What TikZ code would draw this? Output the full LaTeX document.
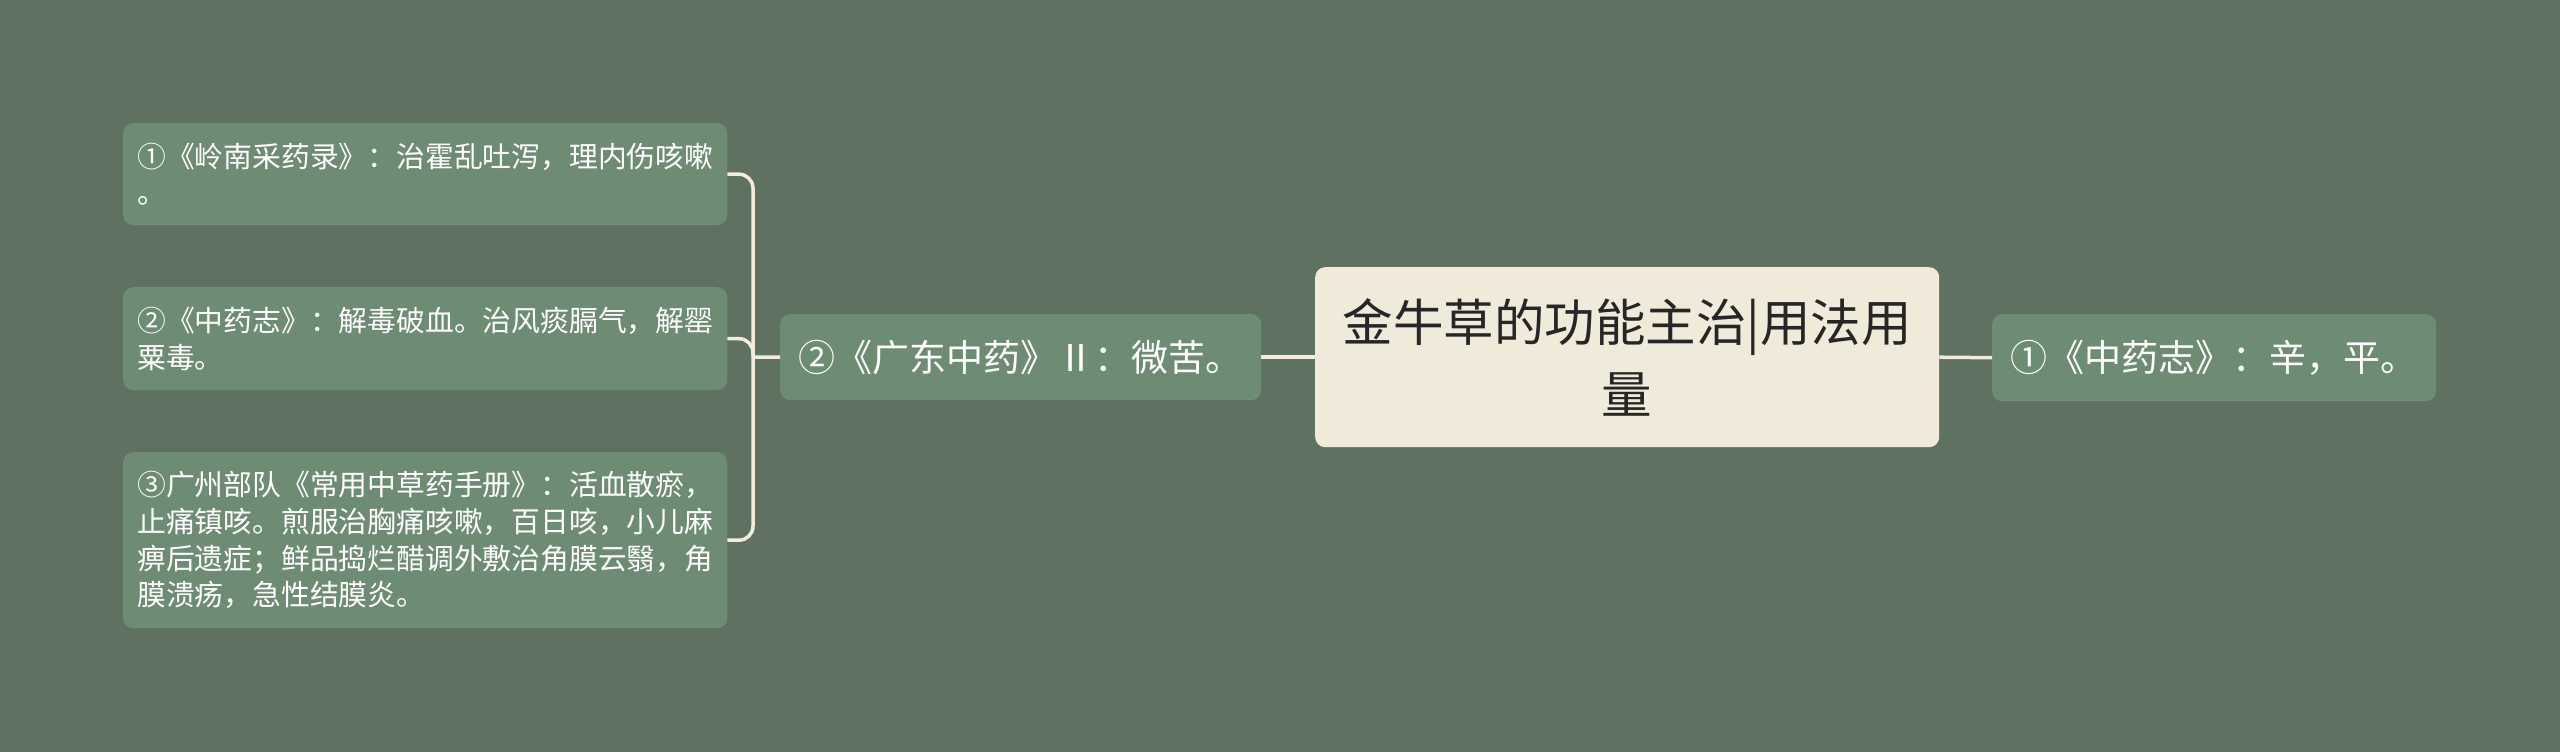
\documentclass[tikz,border=0pt]{standalone}
\usepackage{fontspec}
\setmainfont{Noto Sans CJK SC}
\definecolor{bgcol}{HTML}{5F7262}
\definecolor{leafcol}{HTML}{6E8B74}
\definecolor{rootcol}{HTML}{EFEAD9}
\definecolor{linecol}{HTML}{F1EDDC}

\begin{document}
\begin{tikzpicture}[x=1pt,y=-1pt,
    box/.style={rounded corners=10pt,fill=leafcol,text=white,anchor=north west,align=left,inner ysep=0pt},
    leaf/.style={box,inner xsep=14pt,text width=576pt,font=\fontsize{28.8pt}{36.7pt}\selectfont},
    mid/.style={box,inner xsep=18pt,minimum height=86pt,font=\fontsize{37pt}{44pt}\selectfont},
    root/.style={box,fill=rootcol,text=black!85,align=center,inner xsep=22pt,text width=580pt,minimum height=180pt,font=\fontsize{50.5pt}{72pt}\selectfont},
    link/.style={draw=linecol,line width=3.5pt}]
  \fill[bgcol] (0,0) rectangle (2560,752);

  \node[root]                      (R)  at (1315,267) {金牛草的功能主治|用法用\\量};
  \node[mid,text width=445pt]      (M)  at (780,314)  {②《广东中药》Ⅱ：微苦。};
  \node[mid,text width=408pt,minimum height=87pt] (S) at (1992,314) {①《中药志》：辛，平。};
  \node[leaf,minimum height=102pt] (c1) at (123,123)  {①《岭南采药录》：治霍乱吐泻，理内伤咳嗽\\。};
  \node[leaf,minimum height=103pt] (c2) at (123,287)  {②《中药志》：解毒破血。治风痰膈气，解罂\\粟毒。};
  \node[leaf,minimum height=176pt] (c3) at (123,452)  {③广州部队《常用中草药手册》：活血散瘀，\\止痛镇咳。煎服治胸痛咳嗽，百日咳，小儿麻\\痹后遗症；鲜品捣烂醋调外敷治角膜云翳，角\\膜溃疡，急性结膜炎。};

  \coordinate (hub) at (753,357);
  \draw[link] (R.west) -- (M.east);
  \draw[link] (R.east) -- (S.west);
  \draw[link] (M.west) -- (hub);
  \foreach \c in {c1,c2,c3}
    \draw[link,rounded corners=14pt] (hub) |- (\c.east);
\end{tikzpicture}
\end{document}
